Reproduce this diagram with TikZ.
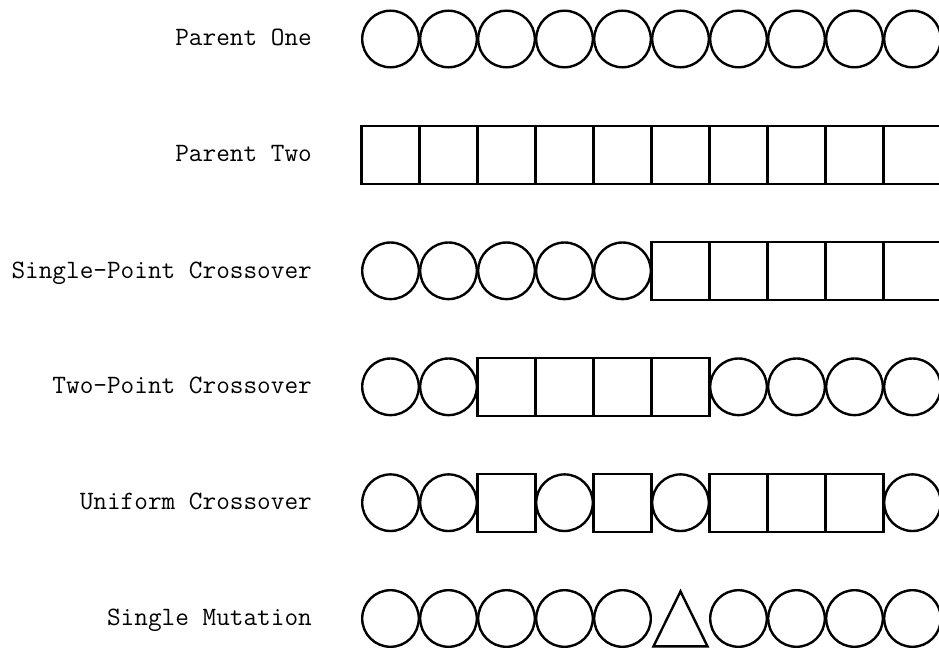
\documentclass[tikz,border=0pt]{standalone}
\begin{document}
\begin{tikzpicture}[x=1pt,y=-1pt,
  gene/.style={draw=black,line width=2.4pt,inner sep=0pt},
  circ/.style={gene,circle,minimum size=56.6pt},
  sqr/.style={gene,rectangle,minimum width=58pt,minimum height=58pt},
  tri/.style={inner sep=0pt,minimum size=58pt},
  lbl/.style={anchor=base east,inner sep=0pt,font=\ttfamily\fontsize{26.5pt}{30pt}\selectfont}]
\useasboundingbox (0,0) rectangle (939,650);
\clip (0,0) rectangle (939,650);
% row 1
\node[lbl] (label1) at (312,45.5) {Parent One};
\foreach \s [count=\k] in {circ,circ,circ,circ,circ,circ,circ,circ,circ,circ}
  \node[\s] (a\k) at ({390.5+58*(\k-1)},39) {};
% row 2
\node[lbl] (label2) at (312,161.5) {Parent Two};
\foreach \s [count=\k] in {sqr,sqr,sqr,sqr,sqr,sqr,sqr,sqr,sqr,sqr}
  \node[\s] (b\k) at ({390.5+58*(\k-1)},155) {};
% row 3
\node[lbl] (label3) at (312,278) {Single-Point Crossover};
\foreach \s [count=\k] in {circ,circ,circ,circ,circ,sqr,sqr,sqr,sqr,sqr}
  \node[\s] (c\k) at ({390.5+58*(\k-1)},270.8) {};
% row 4
\node[lbl] (label4) at (312,393.5) {Two-Point Crossover};
\foreach \s [count=\k] in {circ,circ,sqr,sqr,sqr,sqr,circ,circ,circ,circ}
  \node[\s] (d\k) at ({390.5+58*(\k-1)},386.8) {};
% row 5
\node[lbl] (label5) at (312,509.3) {Uniform Crossover};
\foreach \s [count=\k] in {circ,circ,sqr,circ,sqr,circ,sqr,sqr,sqr,circ}
  \node[\s] (e\k) at ({390.5+58*(\k-1)},502.7) {};
% row 6
\node[lbl] (label6) at (312,625) {Single Mutation};
\foreach \s [count=\k] in {circ,circ,circ,circ,circ,tri,circ,circ,circ,circ}
  \node[\s] (f\k) at ({390.5+58*(\k-1)},618.5) {};
\draw[line width=2.4pt,line join=miter]
  ([yshift=27.1pt]f6.center) -- ([xshift=27pt,yshift=-27.8pt]f6.center)
  -- ([xshift=-27pt,yshift=-27.8pt]f6.center) -- cycle;
\end{tikzpicture}
\end{document}
